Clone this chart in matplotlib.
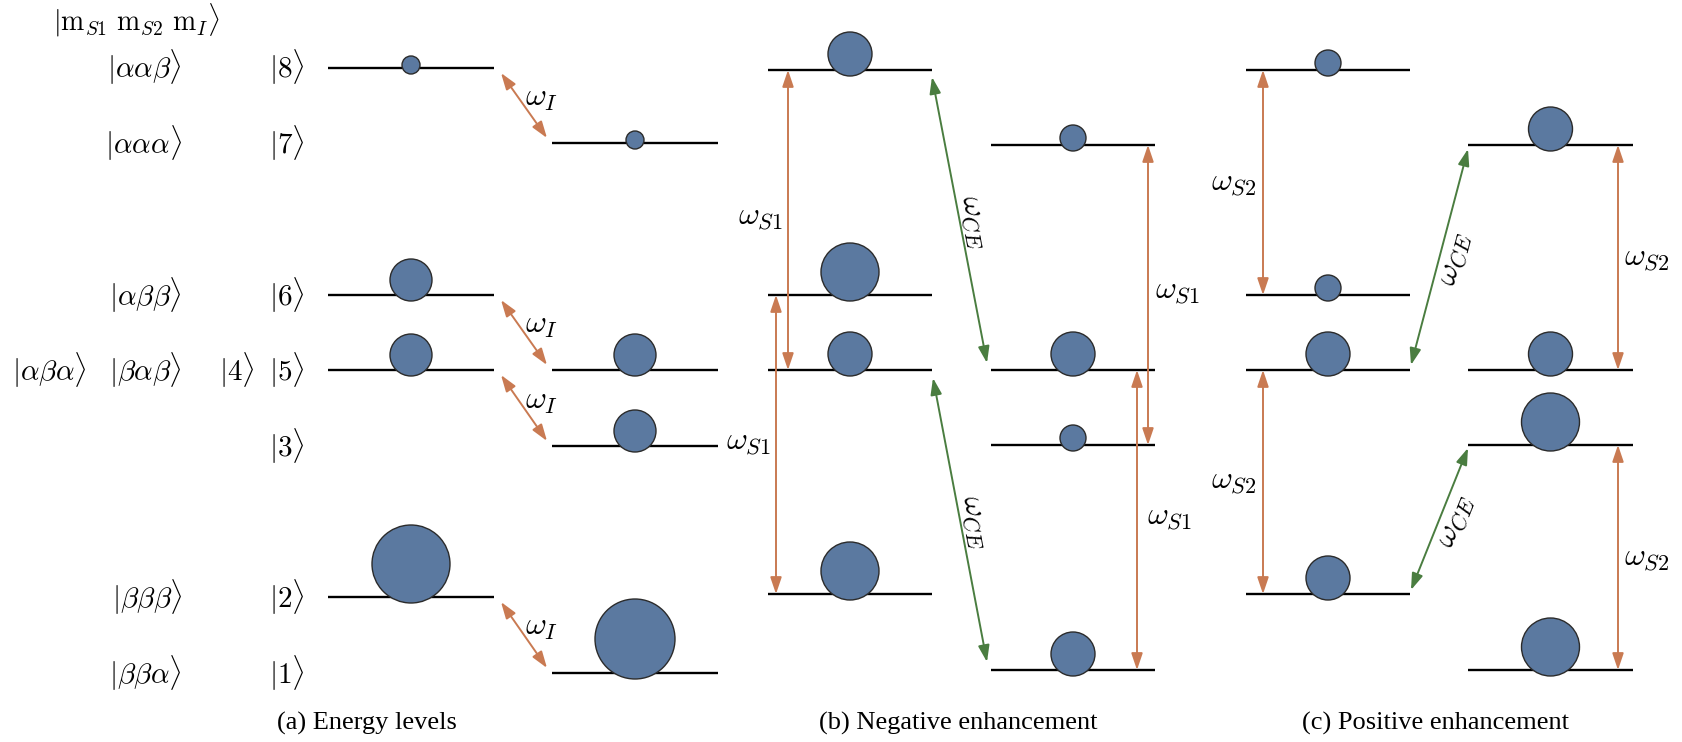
import numpy as np
import matplotlib.pyplot as plt
from matplotlib.patches import Circle, FancyArrowPatch

plt.rcParams['mathtext.fontset'] = 'cm'

# ---- data -------------------------------------------------------------
# level heights (pixel rows, top = 0), left / right column of each panel
lev_a_left = [68, 295, 370, 597]     # |8> |6> |5> |2>
lev_a_right = [143, 370, 446, 673]   # |7> |4> |3> |1>
lev_b_left = [70, 295, 370, 594]
lev_b_right = [145, 370, 445, 670]
lev_c_left = [70, 295, 370, 594]
lev_c_right = [145, 370, 445, 670]

# populations, drawn as circle radius
pop_a_left = [9, 21, 21, 39]
pop_a_right = [9, 21, 21, 40]
pop_b_left = [22, 29, 22, 29]
pop_b_right = [13, 22, 13, 22]
pop_c_left = [13, 13, 22, 22]
pop_c_right = [22, 22, 29, 29]

spin_states = [r'$|\alpha\alpha\beta\rangle$', r'$|\alpha\alpha\alpha\rangle$',
               r'$|\alpha\beta\beta\rangle$', r'$|\beta\alpha\beta\rangle$',
               r'$|\beta\beta\beta\rangle$', r'$|\beta\beta\alpha\rangle$']
spin_y = [67, 143, 295, 370, 597, 673]
num_states = [r'$|8\rangle$', r'$|7\rangle$', r'$|6\rangle$', r'$|5\rangle$',
              r'$|3\rangle$', r'$|2\rangle$', r'$|1\rangle$']
num_y = [67, 143, 295, 370, 446, 597, 673]

captions = ['(a) Energy levels', '(b) Negative enhancement', '(c) Positive enhancement']
caption_x = [367, 958, 1436]

# ---- style ------------------------------------------------------------
BLUE = '#5b79a0'
ORANGE = '#c97a52'
GREEN = '#4a7d40'
FS = 21      # state labels
FW = 23      # transition labels

fig = plt.figure(figsize=(16.82, 7.42), dpi=100)
ax = fig.add_axes([0, 0, 1, 1])
ax.set_xlim(0, 1682)
ax.set_ylim(742, 0)
ax.axis('off')


def column(x0, x1, levels, pops):
    xc = (x0 + x1) / 2
    for y, r in zip(levels, pops):
        ax.plot([x0, x1], [y, y], color='black', lw=1.7, solid_capstyle='butt', zorder=1)
        ax.add_patch(Circle((xc, y - r + 6), r, facecolor=BLUE, edgecolor='#2b2b2b',
                            lw=1.0, zorder=2))


def arrow(p, q, color):
    ax.add_patch(FancyArrowPatch(p, q, arrowstyle='<|-|>,head_length=0.5,head_width=0.17',
                                 mutation_scale=20, color=color, lw=1.4,
                                 shrinkA=0, shrinkB=0, zorder=3))


def ce_arrow(p, q):
    arrow(p, q, GREEN)
    ang = np.degrees(np.arctan2(-(q[1] - p[1]), q[0] - p[0]))
    mx, my = (p[0] + q[0]) / 2 + 15, (p[1] + q[1]) / 2 + 2
    ax.text(mx, my, r'$\omega_{CE}$', fontsize=FW, rotation=ang,
            rotation_mode='anchor', ha='center', va='center')


def wlabel(x, y, s, ha):
    ax.text(x, y, s, fontsize=FW, ha=ha, va='center')


# ---- panel (a) ---------------------------------------------------------
column(328, 494, lev_a_left, pop_a_left)
column(552, 718, lev_a_right, pop_a_right)
for yl, yr in zip(lev_a_left, lev_a_right):
    arrow((501, yl + 5), (547, yr - 5), ORANGE)
    wlabel(542, (yl + yr) / 2 - 8, r'$\omega_I$', 'center')

ax.text(53, 20, r'$|\mathrm{m}_{S1}\ \mathrm{m}_{S2}\ \mathrm{m}_I\rangle$', fontsize=20,
        ha='left', va='center')
for s, y in zip(spin_states, spin_y):
    ax.text(182, y, s, fontsize=FS, ha='right', va='center')
ax.text(87, 370, r'$|\alpha\beta\alpha\rangle$', fontsize=FS, ha='right', va='center')
for s, y in zip(num_states, num_y):
    ax.text(269, y, s, fontsize=FS, ha='left', va='center')
ax.text(219, 370, r'$|4\rangle$', fontsize=FS, ha='left', va='center')

# ---- panel (b) ---------------------------------------------------------
column(768, 932, lev_b_left, pop_b_left)
column(991, 1155, lev_b_right, pop_b_right)
arrow((788, lev_b_left[0]), (788, lev_b_left[2]), ORANGE)
arrow((776, lev_b_left[1]), (776, lev_b_left[3]), ORANGE)
arrow((1148, lev_b_right[0]), (1148, lev_b_right[2]), ORANGE)
arrow((1137, lev_b_right[1]), (1137, lev_b_right[3]), ORANGE)
wlabel(783, (lev_b_left[0] + lev_b_left[2]) / 2 - 3, r'$\omega_{S1}$', 'right')
wlabel(771, (lev_b_left[1] + lev_b_left[3]) / 2 - 3, r'$\omega_{S1}$', 'right')
wlabel(1155, (lev_b_right[0] + lev_b_right[2]) / 2 - 4, r'$\omega_{S1}$', 'left')
wlabel(1147, (lev_b_right[1] + lev_b_right[3]) / 2 - 3, r'$\omega_{S1}$', 'left')
ce_arrow((932, lev_b_left[0] + 7), (987, lev_b_right[1] - 7))
ce_arrow((933, lev_b_left[2] + 8), (987, lev_b_right[3] - 8))

# ---- panel (c) ---------------------------------------------------------
column(1246, 1410, lev_c_left, pop_c_left)
column(1468, 1633, lev_c_right, pop_c_right)
arrow((1263, lev_c_left[0]), (1263, lev_c_left[1]), ORANGE)
arrow((1263, lev_c_left[2]), (1263, lev_c_left[3]), ORANGE)
arrow((1618, lev_c_right[0]), (1618, lev_c_right[1]), ORANGE)
arrow((1618, lev_c_right[2]), (1618, lev_c_right[3]), ORANGE)
wlabel(1257, (lev_c_left[0] + lev_c_left[1]) / 2, r'$\omega_{S2}$', 'right')
wlabel(1257, (lev_c_left[2] + lev_c_left[3]) / 2 - 2, r'$\omega_{S2}$', 'right')
wlabel(1624, (lev_c_right[0] + lev_c_right[1]) / 2, r'$\omega_{S2}$', 'left')
wlabel(1624, (lev_c_right[2] + lev_c_right[3]) / 2, r'$\omega_{S2}$', 'left')
ce_arrow((1411, lev_c_left[2] - 5), (1468, lev_c_right[0] + 4))
ce_arrow((1411, lev_c_left[3] - 4), (1468, lev_c_right[2] + 3))

# ---- captions ----------------------------------------------------------
for t, x in zip(captions, caption_x):
    ax.text(x, 723, t, fontsize=19, family='Liberation Serif', ha='center', va='center')

fig.savefig('out.png', dpi=100)
